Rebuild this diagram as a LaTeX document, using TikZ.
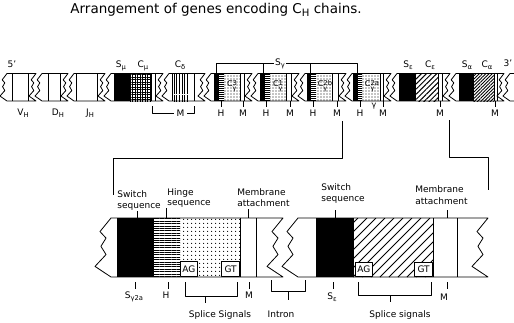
\documentclass[tikz,border=0pt]{standalone}
\usepackage{fontspec}
\setmainfont{DejaVu Sans}
\usetikzlibrary{patterns.meta}
\newcommand\sub[1]{\raisebox{-0.45ex}{\scalebox{0.75}{#1}}}
\newcommand\cg[1]{C\raisebox{0.25ex}{\rlap{\raisebox{-1.15ex}{\scalebox{0.8}{γ}}}\scalebox{0.85}{#1}}}
% torn piece: xl xr top bottom zigzag-width options
\newcommand\torn[6]{%
  \path[#6] (#1,#3) -- (#2,#3)
    -- ({#2-0.69*#5},{#3+0.23*(#4-#3)}) -- ({#2-0.31*#5},{#3+0.34*(#4-#3)})
    -- ({#2-0.63*#5},{#3+0.48*(#4-#3)}) -- ({#2-0.31*#5},{#3+0.62*(#4-#3)})
    -- ({#2-#5},{#3+0.82*(#4-#3)}) -- (#2,#4)
    -- (#1,#4)
    -- ({#1-#5},{#3+0.82*(#4-#3)}) -- ({#1-0.31*#5},{#3+0.62*(#4-#3)})
    -- ({#1-0.63*#5},{#3+0.48*(#4-#3)}) -- ({#1-0.31*#5},{#3+0.34*(#4-#3)})
    -- ({#1-0.69*#5},{#3+0.23*(#4-#3)}) -- cycle;}
\tikzset{
  lbl/.style={font=\fontsize{9}{10}\selectfont, inner sep=0pt},
  glbl/.style={font=\fontsize{8}{9}\selectfont, inner sep=0pt},
  ttl/.style={font=\fontsize{13.5}{15}\selectfont, inner sep=0pt},
  hstripe/.style={pattern={Lines[angle=0,distance=2pt,line width=0.8pt]}},
  vstripe/.style={pattern={Lines[angle=90,distance=2.6pt,line width=0.9pt]}},
  gridfill/.style={pattern={Hatch[angle=0,distance=2.5pt,line width=0.75pt]}},
  dotfill/.style={pattern={Dots[distance=3pt,radius=0.6pt]}},
  hatchA/.style={pattern={Lines[angle=45,distance=3.6pt,line width=1pt]}},
  hatchB/.style={pattern={Lines[angle=45,distance=2.3pt,line width=0.85pt]}},
  bigdots/.style={pattern={Dots[distance=4pt,radius=0.7pt]}},
  bigh/.style={pattern={Lines[angle=0,distance=2.4pt,line width=0.9pt]}},
  hatchline/.style={line width=0.8pt},
  sigbox/.style={draw,fill=white,line width=0.8pt},
}
\begin{document}
\begin{tikzpicture}[x=1pt,y=-1pt,line width=0.8pt,line join=round]
\useasboundingbox (0,0) rectangle (514,322);
\fill[white] (0,0) rectangle (514,322);
\begin{scope}
\clip (0,0) rectangle (514,322);
\node[ttl,anchor=base west] (title) at (70,13) {Arrangement of genes encoding C\sub{H} chains.};

% ---------------- top strip ----------------
\def\ta{73.5}\def\tb{101}
\foreach \l/\r in {7/36,42/68,74/105,111/163,169/205,211/252,258/299,305/346,352/391,397/450,456/504,510/540}
  {\torn{\l}{\r}{\ta}{\tb}{7}{fill=white}}
% mu
\fill[black] (114,\ta) rectangle (130,\tb);
\fill[gridfill] (130,\ta) rectangle (151,\tb);
% delta
\fill[vstripe] (174,\ta) rectangle (188,\tb);
% gamma pieces
\foreach \bA/\bB/\bC/\dD in {214/219/224/240, 260/265/270/286, 307/311/316/332, 353/358/362/380}{
  \fill[black] (\bA,\ta) rectangle (\bB,\tb);
  \fill[hstripe] (\bB,\ta) rectangle (\bC,\tb);
  \fill[dotfill] (\bC,\ta) rectangle (\dD,\tb);
}
% epsilon, alpha
\fill[black] (399,\ta) rectangle (415,\tb);
\fill[hatchA] (415,\ta) rectangle (438,\tb);
\fill[black] (459,\ta) rectangle (473,\tb);
\fill[hatchB] (473,\ta) rectangle (494,\tb);
% outlines
\foreach \l/\r in {7/36,42/68,74/105,111/163,169/205,211/252,258/299,305/346,352/391,397/450,456/504,510/540}
  {\torn{\l}{\r}{\ta}{\tb}{7}{draw}}
\foreach \x in {12,28,48,60,76,97,114,130,151,155,172,194,214,240,244,260,286,291,307,332,338,353,380,383,399,415,438,442,459,473,494,497}
  {\draw (\x,\ta) -- (\x,\tb);}

% gamma box labels
\node[glbl] (g3) at (232,86) {\cg{3}};
\node[glbl] (g1) at (278,86) {\cg{1}};
\node[glbl] (g2b) at (325,86) {\cg{2b}};
\node[glbl] (g2a) at (372,86) {\cg{2a}};

% top labels
\node[lbl,anchor=base] (p5) at (12,67) {5'};
\node[lbl,anchor=base] (smu) at (121,67) {S\sub{μ}};
\node[lbl,anchor=base] (cmu) at (143,67) {C\sub{μ}};
\node[lbl,anchor=base] (cde) at (180,67) {C\sub{δ}};
\node[lbl,anchor=base] (sep) at (408,67) {S\sub{ε}};
\node[lbl,anchor=base] (cep) at (430,67) {C\sub{ε}};
\node[lbl,anchor=base] (sal) at (467,67) {S\sub{α}};
\node[lbl,anchor=base] (cal) at (487,67) {C\sub{α}};
\node[lbl,anchor=base] (p3) at (508,66) {3'};
% S gamma bracket
\draw (216,\ta) -- (216,63) -- (357,63) -- (357,\ta);
\draw (263,63) -- (263,\ta) (310,63) -- (310,\ta);
\node[lbl,fill=white,inner xsep=1.5pt] (sg) at (280,63.5) {S\sub{γ}};

% below-strip labels
\node[lbl,anchor=base] (vh) at (23,115) {V\sub{H}};
\node[lbl,anchor=base] (dh) at (58,115) {D\sub{H}};
\node[lbl,anchor=base] (jh) at (90,115) {J\sub{H}};
\draw (152,106) -- (152,113) -- (174,113);
\draw (187,113) -- (194,113) -- (194,106);
\node[lbl,anchor=base] (mdel) at (180.5,116) {M};
\foreach \x/\t [count=\i] in {221/H,243/M,266/H,290/M,313/H,337/M,360/H,383/M,440/M,495/M}{
  \draw (\x,\tb) -- (\x,107);
  \node[lbl,anchor=base] (hm\i) at (\x,116.5) {\t};
}
\node[glbl] (gsm) at (374,106) {γ};

% connectors
\coordinate (ca1) at (342,121);
\coordinate (ca2) at (113,195);
\coordinate (cb1) at (449,120);
\coordinate (cb2) at (488,190);
\draw (ca1) -- (342,158) -- (113,158) -- (ca2);
\draw (cb1) -- (449,157) -- (488,157) -- (cb2);

% ---------------- bottom detail ----------------
\def\ba{218}\def\bb{277}
\torn{111}{283}{\ba}{\bb}{16}{fill=white}
\torn{298}{488}{\ba}{\bb}{16}{fill=white}
\fill[black] (117,\ba) rectangle (153,\bb);
\fill[bigh] (153,\ba) rectangle (180,\bb);
\fill[bigdots] (180,\ba) rectangle (240,\bb);
\fill[black] (316,\ba) rectangle (353,\bb);
\begin{scope}
  \clip (353,\ba) rectangle (433,\bb);
  \foreach \s in {290,299,...,434}{\draw[hatchline] (\s,\bb) -- ++(59,-59);}
\end{scope}
\torn{111}{283}{\ba}{\bb}{16}{draw}
\torn{298}{488}{\ba}{\bb}{16}{draw}
\foreach \x in {117,153,240,256,316,353,433,457}
  {\draw (\x,\ba) -- (\x,\bb);}
\node[sigbox,lbl,minimum width=17pt,minimum height=15pt,anchor=south west] (ag1) at (180,\bb) {AG};
\node[sigbox,lbl,minimum width=18pt,minimum height=15pt,anchor=south east] (gt1) at (240,\bb) {GT};
\node[sigbox,lbl,minimum width=17pt,minimum height=14pt,anchor=south west] (ag2) at (355,\bb) {AG};
\node[sigbox,lbl,minimum width=18pt,minimum height=14pt,anchor=south east] (gt2) at (433,\bb) {GT};

% labels above detail
\node[lbl,anchor=base west] (sw1) at (117,197) {Switch};
\node[lbl,anchor=base west] (sq1) at (117,208) {sequence};
\node[lbl,anchor=base west] (hi1) at (167,195) {Hinge};
\node[lbl,anchor=base west] (sq2) at (167,205.5) {sequence};
\node[lbl,anchor=base west] (me1) at (237,195) {Membrane};
\node[lbl,anchor=base west] (at1) at (237,206) {attachment};
\node[lbl,anchor=base west] (sw2) at (321,190) {Switch};
\node[lbl,anchor=base west] (sq3) at (321,201.5) {sequence};
\node[lbl,anchor=base west] (me2) at (415,192) {Membrane};
\node[lbl,anchor=base west] (at2) at (415,204) {attachment};
\draw (137,211) -- (137,\ba);
\draw (166,208) -- (166,\ba);
\draw (248,209) -- (248,\ba);
\draw (335,210) -- (335,\ba);
\draw (447,210) -- (447,\ba);

% labels below detail
\foreach \x in {135,168,249,333,447}{\draw (\x,282) -- (\x,289);}
\node[lbl,anchor=base] (sg2a) at (134,298) {S\sub{γ2a}};
\node[lbl,anchor=base] (hb) at (166,298) {H};
\node[lbl,anchor=base] (mb1) at (249,298) {M};
\node[lbl,anchor=base] (seb) at (332,299) {S\sub{ε}};
\node[lbl,anchor=base] (mb2) at (444,300) {M};
\draw (185,282) -- (185,296) -- (237,296) -- (237,282);
\draw (205,296) -- (205,303);
\node[lbl,anchor=base] (sps1) at (220,317) {Splice Signals};
\draw (271,280) -- (271,291) -- (305,291) -- (305,280);
\draw (288,291) -- (288,300);
\node[lbl,anchor=base] (intr) at (281,317) {Intron};
\draw (358,282) -- (358,295) -- (431,295) -- (431,282);
\draw (390,295) -- (390,302);
\node[lbl,anchor=base] (sps2) at (400,317) {Splice signals};
\end{scope}
\end{tikzpicture}
\end{document}
